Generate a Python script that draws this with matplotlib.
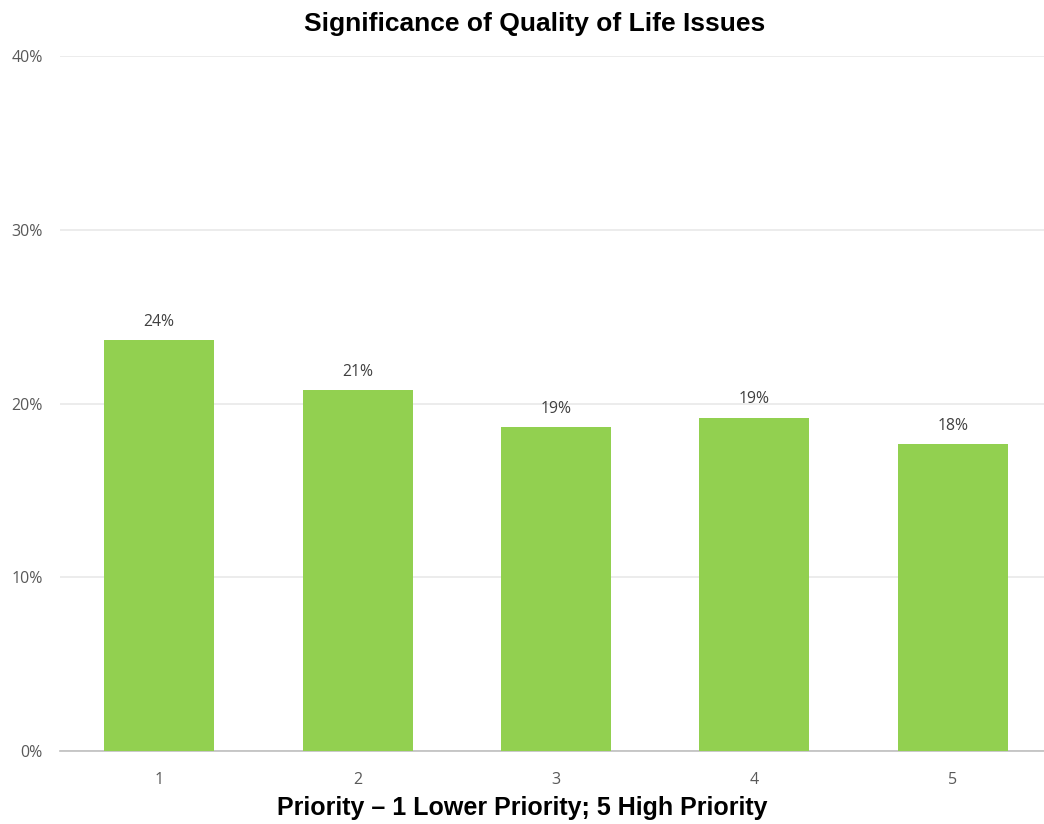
import numpy as np
import matplotlib.pyplot as plt

# data
categories = ['1', '2', '3', '4', '5']
values = [23.65, 20.78, 18.65, 19.17, 17.67]
labels = ['24%', '21%', '19%', '19%', '18%']
yticks = [0, 10, 20, 30, 40]

fig = plt.figure(figsize=(10.44, 8.24), dpi=100)
ax = fig.add_axes([60 / 1044, 73 / 824, 992 / 1044, 695 / 824])

x = np.arange(len(categories))
bars = ax.bar(x, values, width=0.555, color='#92D050', zorder=3)

for b, lab in zip(bars, labels):
    ax.text(b.get_x() + b.get_width() / 2, b.get_height() + 0.6, lab,
            ha='center', va='bottom', fontsize=11.3, color='#404040',
            family='Open Sans')

ax.set_xlim(-0.5, 4.5)
ax.set_ylim(0, 40)
ax.set_yticks(yticks)
ax.set_yticklabels([f'{t}%' for t in yticks])
ax.set_xticks(x)
ax.set_xticklabels(categories)

ax.grid(axis='y', color='#E9E9E9', linewidth=1.2, zorder=0)
for s in ['top', 'right', 'left']:
    ax.spines[s].set_visible(False)
ax.spines['bottom'].set_color('#BFBFBF')
ax.spines['bottom'].set_linewidth(1.2)
ax.tick_params(length=0, labelsize=11.5, labelcolor='#595959')
ax.tick_params(axis='x', pad=15)
ax.tick_params(axis='y', pad=12.5)
for t in ax.get_xticklabels() + ax.get_yticklabels():
    t.set_family('Open Sans')

fig.text(535 / 1044, 1 - 24 / 824, 'Significance of Quality of Life Issues',
         ha='center', va='center', fontsize=19, fontweight='bold',
         family='Liberation Sans')
fig.text(522 / 1044, 1 - 808 / 824, 'Priority \u2013 1 Lower Priority; 5 High Priority',
         ha='center', va='center', fontsize=18, fontweight='bold',
         family='Liberation Sans')

fig.savefig('out.png', dpi=100)
